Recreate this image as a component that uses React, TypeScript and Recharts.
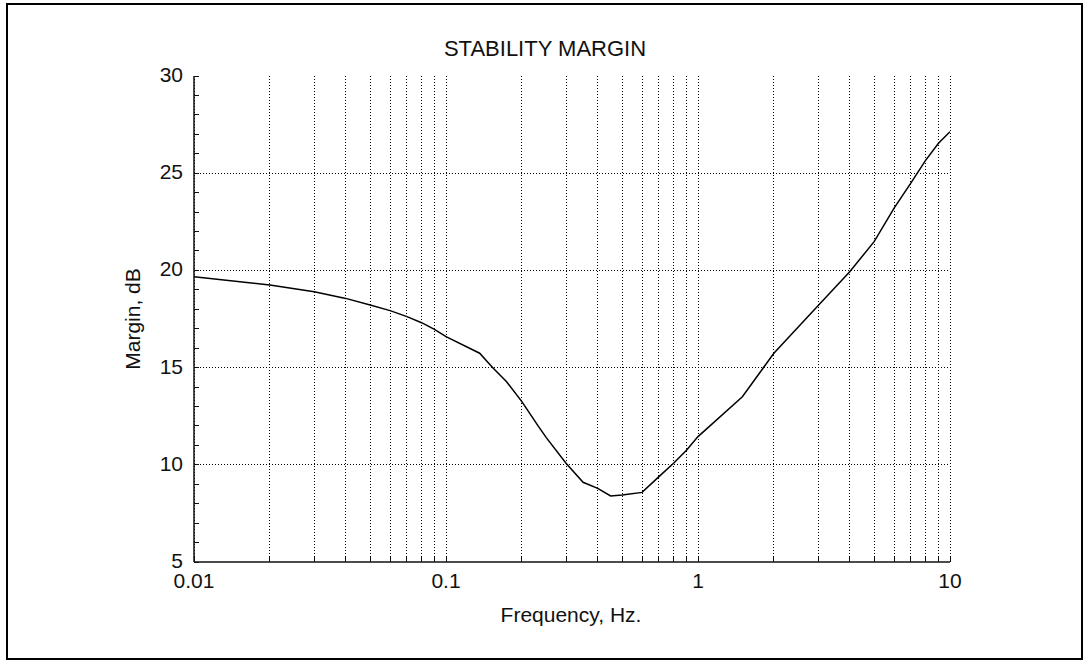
import { LineChart, Line, XAxis, YAxis, CartesianGrid, ReferenceLine } from 'recharts';

// frequency (Hz) and stability margin (dB)
const freqs = [0.01, 0.02, 0.03, 0.04, 0.05, 0.06, 0.07, 0.08, 0.09, 0.1, 0.136, 0.153, 0.174, 0.2, 0.232, 0.25, 0.3, 0.35, 0.4, 0.45, 0.5, 0.6, 0.7, 0.8, 0.9, 1, 1.5, 2, 3, 4, 5, 6, 7, 8, 9, 10];
const margins = [19.68, 19.25, 18.9, 18.56, 18.22, 17.93, 17.62, 17.31, 16.97, 16.59, 15.74, 15.0, 14.27, 13.25, 12.0, 11.4, 10.07, 9.1, 8.79, 8.4, 8.45, 8.58, 9.39, 10.08, 10.75, 11.45, 13.5, 15.74, 18.2, 19.93, 21.48, 23.2, 24.5, 25.66, 26.54, 27.13];

const xTicks = [
  0.01, 0.02, 0.03, 0.04, 0.05, 0.06, 0.07, 0.08, 0.09,
  0.1, 0.2, 0.3, 0.4, 0.5, 0.6, 0.7, 0.8, 0.9,
  1, 2, 3, 4, 5, 6, 7, 8, 9, 10,
];
const xLabels: Record<number, string> = { 0.01: '0.01', 0.1: '0.1', 1: '1', 10: '10' };
const yTicks = [5, 6, 7, 8, 9, 10, 11, 12, 13, 14, 15, 16, 17, 18, 19, 20, 21, 22, 23, 24, 25, 26, 27, 28, 29, 30];
const yGrid = [10, 15, 20, 25];

const data = freqs.map((f, i) => ({ f, m: margins[i] }));

const FONT = '"Liberation Sans", Arial, sans-serif';
const INK = '#111';

const BottomTick = (p: any) => {
  const { x, y, payload } = p;
  const lab = xLabels[payload.value];
  return (
    <g>
      <line x1={x} x2={x} y1={y} y2={y - 5} stroke={INK} strokeWidth={1} shapeRendering="crispEdges" />
      {lab && (
        <text x={x} y={y + 26} textAnchor="middle" fontSize={21} fontFamily={FONT} fill={INK}>
          {lab}
        </text>
      )}
    </g>
  );
};

const TopTick = (p: any) => (
  <line x1={p.x} x2={p.x} y1={p.y} y2={p.y + 5} stroke={INK} strokeWidth={1} shapeRendering="crispEdges" />
);

const LeftTick = (p: any) => {
  const { x, y, payload } = p;
  const v = payload.value;
  return (
    <g>
      <line x1={x} x2={x + 5} y1={y} y2={y} stroke={INK} strokeWidth={1} shapeRendering="crispEdges" />
      {v % 5 === 0 && (
        <text x={x - 11} y={y + 6} textAnchor="end" fontSize={21} fontFamily={FONT} fill={INK}>
          {v}
        </text>
      )}
    </g>
  );
};

const RightTick = (p: any) => (
  <line x1={p.x} x2={p.x - 5} y1={p.y} y2={p.y} stroke={INK} strokeWidth={1} shapeRendering="crispEdges" />
);

export default function App() {
  return (
    <div style={{ position: 'absolute', left: 0, top: 0, width: 1085, height: 663, background: '#fff' }}>
      <div
        style={{
          position: 'absolute',
          left: 6,
          top: 3,
          width: 1073,
          height: 653,
          border: '2px solid #000',
        }}
      />
      <div style={{ position: 'absolute', left: 0, top: 0 }}>
        <LineChart width={1085} height={663} data={data} margin={{ top: 76, right: 135, bottom: 71, left: 134 }}>
          <CartesianGrid
            horizontal={false}
            xAxisId="b"
            yAxisId="l"
            stroke="#000"
            strokeDasharray="1 2"
            shapeRendering="crispEdges"
          />
          {yGrid.map((v) => (
            <ReferenceLine
              key={v}
              y={v}
              xAxisId="b"
              yAxisId="l"
              stroke="#000"
              strokeDasharray="1 2"
              shapeRendering="crispEdges"
            />
          ))}
          <XAxis
            xAxisId="b"
            dataKey="f"
            type="number"
            scale="log"
            domain={[0.01, 10]}
            allowDataOverflow
            ticks={xTicks}
            interval={0}
            height={30}
            tickSize={0}
            tickMargin={0}
            tickLine={false}
            tick={<BottomTick />}
            axisLine={{ stroke: INK, strokeWidth: 1.5 }}
          />
          <XAxis
            xAxisId="t"
            orientation="top"
            type="number"
            scale="log"
            domain={[0.01, 10]}
            allowDataOverflow
            ticks={xTicks}
            interval={0}
            height={0}
            tickSize={0}
            tickMargin={0}
            tickLine={false}
            tick={<TopTick />}
            axisLine={{ stroke: INK, strokeWidth: 1.5 }}
          />
          <YAxis
            yAxisId="l"
            type="number"
            domain={[5, 30]}
            ticks={yTicks}
            interval={0}
            width={60}
            tickSize={0}
            tickMargin={0}
            tickLine={false}
            tick={<LeftTick />}
            axisLine={{ stroke: INK, strokeWidth: 1.5 }}
          />
          <YAxis
            yAxisId="r"
            orientation="right"
            type="number"
            domain={[5, 30]}
            ticks={yTicks}
            interval={0}
            width={0}
            tickSize={0}
            tickMargin={0}
            tickLine={false}
            tick={<RightTick />}
            axisLine={{ stroke: INK, strokeWidth: 1.5 }}
          />
          <Line
            xAxisId="b"
            yAxisId="l"
            type="linear"
            dataKey="m"
            stroke="#000"
            strokeWidth={1.5}
            dot={false}
            isAnimationActive={false}
          />
        </LineChart>
      </div>
      <svg width={1085} height={663} style={{ position: 'absolute', left: 0, top: 0, pointerEvents: 'none' }}>
        <text x={545} y={56} textAnchor="middle" fontSize={22} fontFamily={FONT} fill={INK}>
          STABILITY MARGIN
        </text>
        <text x={571} y={622} textAnchor="middle" fontSize={21} fontFamily={FONT} fill={INK}>
          Frequency, Hz.
        </text>
        <text
          x={140}
          y={319}
          textAnchor="middle"
          fontSize={21}
          fontFamily={FONT}
          fill={INK}
          transform="rotate(-90 140 319)"
        >
          Margin, dB
        </text>
      </svg>
    </div>
  );
}
